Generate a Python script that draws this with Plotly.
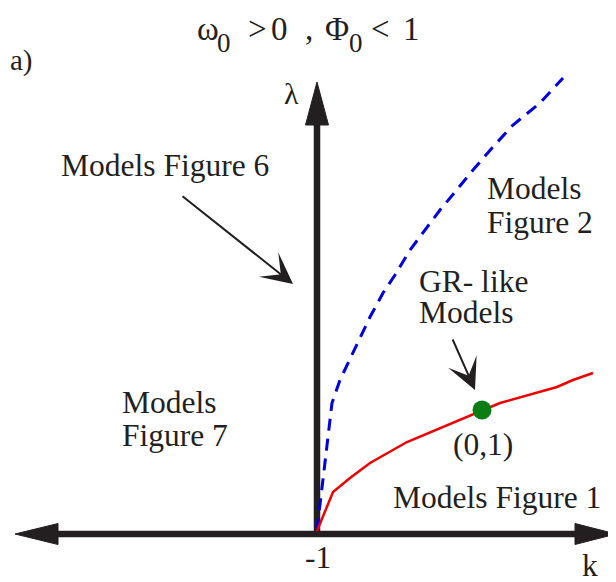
import plotly.graph_objects as go

# ---- data (diagram units: k offset from -1, lambda above the k-axis) ----
red_k = [0, 16, 33, 53, 90, 123, 165, 183, 240, 256, 276]
red_lam = [3, 42, 56, 71, 92, 106, 124, 131, 147, 154, 161]

blue_k = [0, 5, 10, 15, 23, 36, 53, 66, 78, 93, 110, 123, 138, 156, 175, 196, 223, 246]
blue_lam = [4, 47, 94, 131, 154, 181, 217, 241, 259, 284, 306, 324, 342, 364, 386, 409, 431, 456]

gr_point_k = [165]
gr_point_lam = [124]

# axis extents (diagram units); page has an 8px body margin, so the view starts there
K_RANGE = [-309, 299]
LAM_RANGE = [-48, 526]
k_axis_left_tip, k_axis_left_base = -302, -259
k_axis_right_tip, k_axis_right_base = 299, 258
lam_axis_tip, lam_axis_base = 452, 409
head_half_h = 10.5
head_half_w = 11.5

INK = "#231f20"
FONT = "Liberation Serif, Times New Roman, serif"
FS = 31.5

fig = go.Figure()

# k axis shaft and heads
fig.add_trace(go.Scatter(x=[k_axis_left_base, k_axis_right_base], y=[0, 0], mode="lines",
                         line=dict(color=INK, width=6.5), hoverinfo="skip"))
fig.add_trace(go.Scatter(x=[k_axis_left_tip, k_axis_left_base, k_axis_left_base, k_axis_left_tip],
                         y=[0, head_half_h, -head_half_h, 0], mode="lines", fill="toself",
                         fillcolor=INK, line=dict(color=INK, width=1), hoverinfo="skip"))
fig.add_trace(go.Scatter(x=[k_axis_right_tip, k_axis_right_base, k_axis_right_base, k_axis_right_tip],
                         y=[0, head_half_h, -head_half_h, 0], mode="lines", fill="toself",
                         fillcolor=INK, line=dict(color=INK, width=1), hoverinfo="skip"))
# lambda axis shaft and head
fig.add_trace(go.Scatter(x=[0, 0], y=[-3, lam_axis_base], mode="lines",
                         line=dict(color=INK, width=6.5), hoverinfo="skip"))
fig.add_trace(go.Scatter(x=[0, head_half_w, -head_half_w, 0],
                         y=[lam_axis_tip, lam_axis_base, lam_axis_base, lam_axis_tip], mode="lines",
                         fill="toself", fillcolor=INK, line=dict(color=INK, width=1), hoverinfo="skip"))

# curves
fig.add_trace(go.Scatter(x=blue_k, y=blue_lam, mode="lines",
                         line=dict(color="#0000dd", width=3, dash="12px,8px"), hoverinfo="skip"))
fig.add_trace(go.Scatter(x=red_k, y=red_lam, mode="lines",
                         line=dict(color="#ee0000", width=2.5), hoverinfo="skip"))
fig.add_trace(go.Scatter(x=gr_point_k, y=gr_point_lam, mode="markers",
                         marker=dict(color="#0a7d14", size=19), hoverinfo="skip"))

def label(text, x, y, size=FS, xanchor="center", align="center"):
    fig.add_annotation(x=x, y=y, text=text, showarrow=False, xanchor=xanchor, yanchor="middle",
                       align=align, font=dict(family=FONT, size=size, color=INK))

# title "ω0 > 0 , Φ0 < 1" set piece by piece (subscripts are large in the original)
title_main = [("ω", -109.5), ("&gt;", -59.5), ("0", -37.5), (",", -8), ("Φ", 19.5),
              ("&lt;", 63), ("1", 94)]
title_subs = [("0", -93), ("0", 39)]
for t, x in title_main:
    label(t, x, 505, size=33)
for t, x in title_subs:
    label(t, x, 491, size=27)

label("a)", -296, 474, size=29)
label("λ", -26, 441, size=30)
label("Models Figure 6", -152, 369)
label("Models", 168, 346, xanchor="left")
label("Figure 2", 168, 312, xanchor="left")
label("GR- like", 100, 253, xanchor="left")
label("Models", 100, 222, xanchor="left")
label("Models", -197, 132, xanchor="left")
label("Figure 7", -197, 99, xanchor="left")
label("(0,1)", 166, 90)
label("Models Figure 1", 180, 37)
label("-1", 1, -23)
label("k", 273, -31)

# pointer arrows
fig.add_annotation(x=-24, y=250, ax=-136, ay=339, axref="x", ayref="y", xref="x", yref="y",
                   text="", showarrow=True, arrowhead=3, arrowsize=2.6, arrowwidth=2, arrowcolor=INK)
fig.add_annotation(x=158, y=144, ax=135, ay=196, axref="x", ayref="y", xref="x", yref="y",
                   text="", showarrow=True, arrowhead=3, arrowsize=2.6, arrowwidth=2, arrowcolor=INK)

fig.update_layout(width=608, height=574, margin=dict(l=0, r=0, t=0, b=0),
                  paper_bgcolor="white", plot_bgcolor="white", showlegend=False,
                  xaxis=dict(range=K_RANGE, visible=False, fixedrange=True),
                  yaxis=dict(range=LAM_RANGE, visible=False, fixedrange=True))

fig.write_html("out.html")
